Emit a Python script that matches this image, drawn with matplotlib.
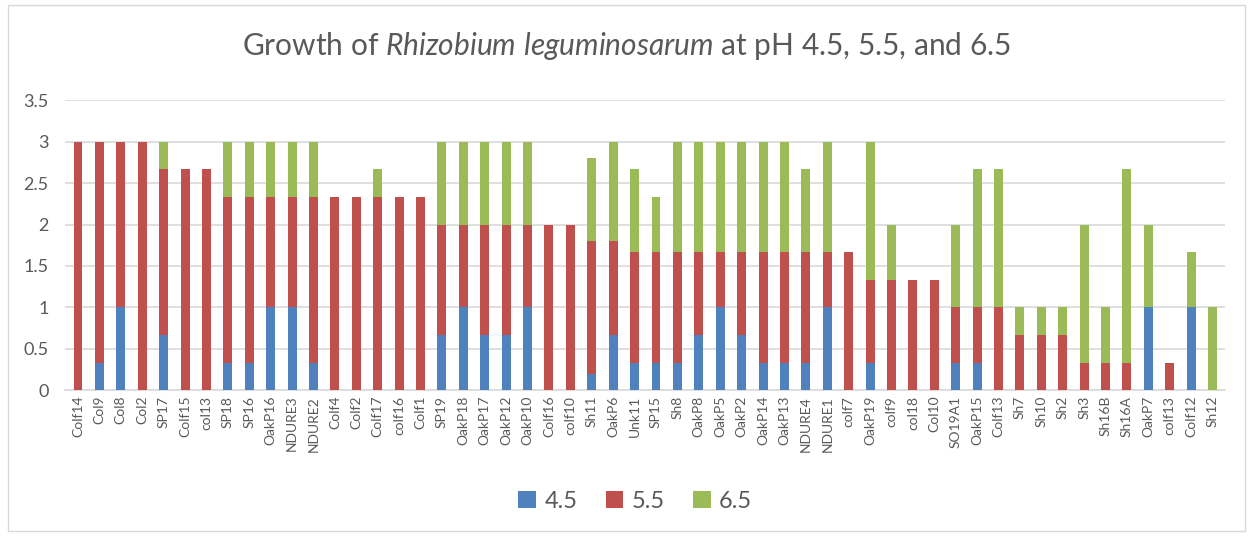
import matplotlib
matplotlib.use("Agg")
import matplotlib.pyplot as plt
import numpy as np
from matplotlib.patches import Rectangle

plt.rcParams["font.family"] = ["Lato", "DejaVu Sans"]
plt.rcParams["mathtext.fontset"] = "custom"
plt.rcParams["mathtext.rm"] = "Lato"
plt.rcParams["mathtext.it"] = "Lato:italic"

strains = ["Colf14", "Col9", "Col8", "Col2", "SP17", "Colf15", "col13", "SP18", "SP16",
           "OakP16", "NDURE3", "NDURE2", "Colf4", "Colf2", "Colf17", "colf16", "Colf1",
           "SP19", "OakP18", "OakP17", "OakP12", "OakP10", "Colf16", "colf10", "Sh11",
           "OakP6", "Unk11", "SP15", "Sh8", "OakP8", "OakP5", "OakP2", "OakP14", "OakP13",
           "NDURE4", "NDURE1", "colf7", "OakP19", "colf9", "col18", "Col10", "SO19A1",
           "OakP15", "Colf13", "Sh7", "Sh10", "Sh2", "Sh3", "Sh16B", "Sh16A", "OakP7",
           "colf13", "Colf12", "Sh12"]

t = 1 / 3
ph45 = [0, t, 1, 0, 2*t, 0, 0, t, t, 1, 1, t, 0, 0, 0, 0, 0,
        2*t, 1, 2*t, 2*t, 1, 0, 0, 0.2, 2*t, t, t, t, 2*t, 1, 2*t, t, t,
        t, 1, 0, t, 0, 0, 0, t, t, 0, 0, 0, 0, 0, 0, 0, 1, 0, 1, 0]
ph55 = [3, 8*t, 2, 3, 2, 8*t, 8*t, 2, 2, 4*t, 4*t, 2, 7*t, 7*t, 7*t, 7*t, 7*t,
        4*t, 1, 4*t, 4*t, 1, 2, 2, 1.6, 1.133, 4*t, 4*t, 4*t, 1, 2*t, 1, 4*t, 4*t,
        4*t, 2*t, 5*t, 1, 4*t, 4*t, 4*t, 2*t, 2*t, 1, 2*t, 2*t, 2*t, t, t, t, 0, t, 0, 0]
ph65 = [0, 0, 0, 0, t, 0, 0, 2*t, 2*t, 2*t, 2*t, 2*t, 0, 0, t, 0, 0,
        1, 1, 1, 1, 1, 0, 0, 1.0, 1.2, 1, 2*t, 4*t, 4*t, 4*t, 4*t, 4*t, 4*t,
        1, 4*t, 0, 5*t, 2*t, 0, 0, 1, 5*t, 5*t, t, t, t, 5*t, 2*t, 7*t, 1, 0, 2*t, 1]

colors = {"4.5": "#4F81BD", "5.5": "#C0504D", "6.5": "#9BBB59"}

fig = plt.figure(figsize=(12.53, 5.39), dpi=100)
ax = fig.add_axes([0.052, 0.276, 0.926, 0.538])

x = np.arange(len(strains))
a = np.array(ph45)
b = np.array(ph55)
c = np.array(ph65)
w = 0.42
ax.bar(x, a, w, color=colors["4.5"], label="4.5", zorder=3)
ax.bar(x, b, w, bottom=a, color=colors["5.5"], label="5.5", zorder=3)
ax.bar(x, c, w, bottom=a + b, color=colors["6.5"], label="6.5", zorder=3)

ax.set_ylim(0, 3.5)
ax.set_xlim(-0.6, len(strains) - 0.4)
ax.set_yticks(np.arange(0, 3.51, 0.5))
ax.set_yticklabels(["0", "0.5", "1", "1.5", "2", "2.5", "3", "3.5"])
ax.set_xticks(x)
ax.set_xticklabels(strains, rotation=90, fontsize=10, color="#595959")
ax.tick_params(axis="y", labelsize=13, colors="#595959", length=0, pad=12)
ax.tick_params(axis="x", length=0, pad=4)
ax.grid(axis="y", color="#D9D9D9", lw=1.2, zorder=0)
for s in ["top", "right", "left"]:
    ax.spines[s].set_visible(False)
ax.spines["bottom"].set_color("#D9D9D9")
ax.spines["bottom"].set_linewidth(1.2)

fig.text(0.5, 0.915, r"Growth of $\mathit{Rhizobium\ leguminosarum}$ at pH 4.5, 5.5, and 6.5",
         ha="center", va="center", fontsize=21.5, color="#595959")

handles, labels = ax.get_legend_handles_labels()
fig.legend(handles, labels, loc="center", bbox_to_anchor=(0.507, 0.07), ncol=3,
           frameon=False, fontsize=17, handlelength=0.75, handleheight=0.75,
           columnspacing=1.2, handletextpad=0.35, labelcolor="#595959")

fig.patches.append(Rectangle((0.006, 0.015), 0.988, 0.975, transform=fig.transFigure,
                             fill=False, edgecolor="#D9D9D9", lw=1))

fig.savefig("out.png", dpi=100)
